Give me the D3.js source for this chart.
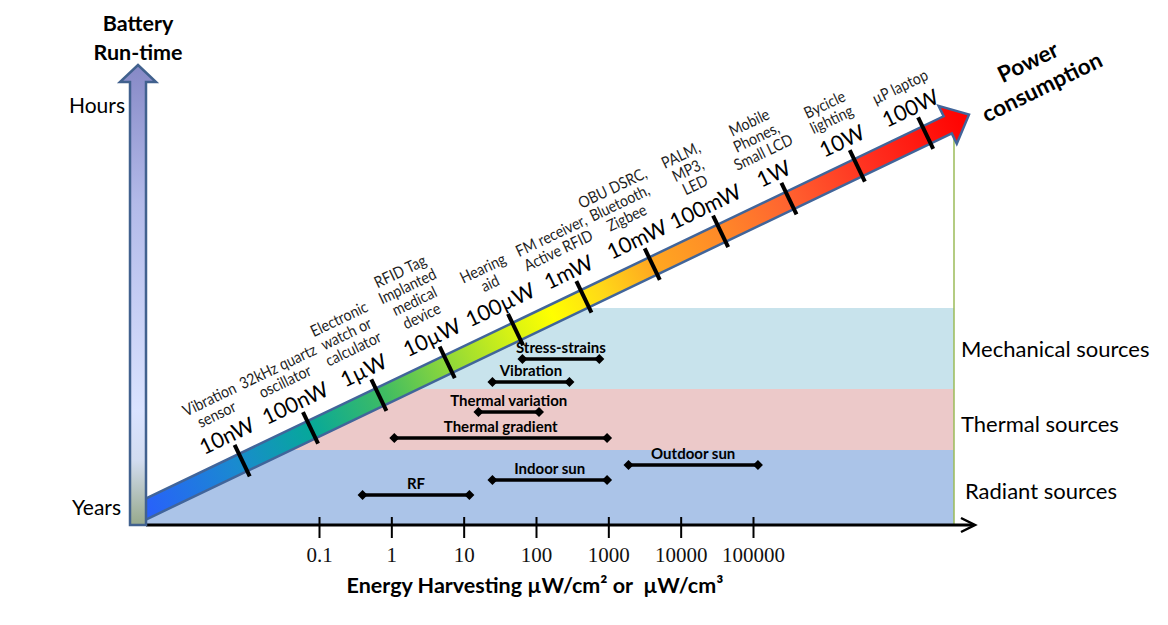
<!DOCTYPE html>
<meta charset="utf-8">
<script src="https://d3js.org/d3.v7.min.js"></script>
<style>
  body { margin: 0; background: #fff; }
  text { font-family: Lato, "Open Sans", sans-serif; }
</style>
<div id="chart"></div>
<script>
// ---- data ----
const powerLabels = ["10nW", "100nW", "1µW", "10µW", "100µW", "1mW", "10mW", "100mW", "1W", "10W", "100W"];
const powerWatts = [1e-8, 1e-7, 1e-6, 1e-5, 1e-4, 1e-3, 1e-2, 1e-1, 1, 10, 100];
const deviceNames = [
    "Vibration\nsensor",
    "32kHz quartz\noscillator",
    "Electronic\nwatch or\ncalculator",
    "RFID Tag\nImplanted\nmedical\ndevice",
    "Hearing\naid",
    "FM receiver,\nActive RFID",
    "OBU DSRC,\nBluetooth,\nZigbee",
    "PALM,\nMP3,\nLED",
    "Mobile\nPhones,\nSmall LCD",
    "Bycicle\nlighting",
    "µP laptop"
];
const sourceNames = ["Mechanical sources", "Thermal sources", "Radiant sources"];
const rangeNames = ["Stress-strains", "Vibration", "Thermal variation", "Thermal gradient", "Outdoor sun", "Indoor sun", "RF"];
const rangeLow = [65, 25, 16, 1.1, 1900, 25, 0.4];
const rangeHigh = [750, 290, 110, 960, 117000, 960, 12];
const xTicks = [0.1, 1, 10, 100, 1000, 10000, 100000];

// ---- layout ----
const width = 1168, height = 625;
const originX = 146, axisY = 525, rightX = 954;

const svg = d3.select("#chart").append("svg")
    .attr("width", width)
    .attr("height", height);
const defs = svg.append("defs");

// energy harvesting density scale
const x = d3.scaleLog().domain([0.1, 100000]).range([319, 753]);

// rows for the harvesting ranges
const rowY = d3.scaleOrdinal().domain(rangeNames).range([359, 382, 412, 438, 465, 480, 495]);
// source bands
const bandY = d3.scaleOrdinal().domain(sourceNames).range([[308, 389], [389, 450], [450, axisY]]);
const bandColor = d3.scaleOrdinal().domain(sourceNames).range(["#c8e3ec", "#ecc9c9", "#abc4e8"]);

// diagonal power arrow
const angle = Math.atan(0.4792);
const deg = angle * 180 / Math.PI;
const start = {x: originX, y: 509};
const halfW = 9.5;
const along = d3.scaleLog().domain([1e-8, 1e2]).range([107.6, 865.5]);
const tipU = 912.6, headU = 889, headW = 21;

function lowEdge(px) {
    return start.y + halfW / Math.cos(angle) - Math.tan(angle) * (px - originX);
}

// clip so that the source bands stay under the arrow
defs.append("clipPath").attr("id", "under")
    .append("polygon")
    .attr("points", [[originX, lowEdge(originX)], [rightX, lowEdge(rightX)], [rightX, axisY], [originX, axisY]].join(" "));

svg.append("g").attr("clip-path", "url(#under)")
    .selectAll("rect")
    .data(sourceNames)
    .join("rect")
        .attr("x", originX)
        .attr("width", rightX - originX)
        .attr("y", d => bandY(d)[0])
        .attr("height", d => bandY(d)[1] - bandY(d)[0])
        .attr("fill", d => bandColor(d));

// right border line
svg.append("line")
    .attr("x1", rightX).attr("x2", rightX)
    .attr("y1", lowEdge(rightX) - 4).attr("y2", axisY)
    .attr("stroke", "#9bbb59").attr("stroke-width", 1.5);

// arrow gradient
const grad = defs.append("linearGradient").attr("id", "powerGrad")
    .attr("x1", "0").attr("x2", "1").attr("y1", "0").attr("y2", "0");
[[0, "#2a5cff"], [0.12, "#1a8ad0"], [0.21, "#06a89a"], [0.30, "#40bc62"], [0.37, "#8ad63c"],
 [0.45, "#d6f214"], [0.50, "#ffff00"], [0.56, "#ffd818"], [0.62, "#ffa820"], [0.70, "#ff8a28"],
 [0.78, "#ff6430"], [0.88, "#ff3020"], [1, "#ff0000"]]
    .forEach(s => grad.append("stop").attr("offset", s[0]).attr("stop-color", s[1]));

const arrowG = svg.append("g")
    .attr("transform", `translate(${start.x},${start.y}) rotate(${-deg})`);
arrowG.append("path")
    .attr("d", `M-12,${-halfW} L${headU},${-halfW} L${headU},${-headW} L${tipU},0 L${headU},${headW} L${headU},${halfW} L-12,${halfW} Z`)
    .attr("fill", "url(#powerGrad)")
    .attr("stroke", "#41659a")
    .attr("stroke-width", 2.5)
    .attr("stroke-linejoin", "miter");

// power ticks
arrowG.selectAll(".ptick")
    .data(powerWatts)
    .join("line")
        .attr("class", "ptick")
        .attr("x1", d => along(d)).attr("x2", d => along(d))
        .attr("y1", -19.5).attr("y2", 15.5)
        .attr("stroke", "#000").attr("stroke-width", 4);

// power labels
arrowG.selectAll(".plabel")
    .data(powerWatts)
    .join("text")
        .attr("class", "plabel")
        .attr("x", d => along(d) - 3)
        .attr("y", -31)
        .attr("dy", "0.35em")
        .attr("text-anchor", "middle")
        .style("font-size", "21.5px")
        .text((d, i) => powerLabels[i]);

// device descriptions (narrowed a little, like the original Calibri)
arrowG.selectAll(".dev")
    .data(powerWatts)
    .join("text")
        .attr("class", "dev")
        .attr("transform", d => `translate(${along(d) - 3},0) scale(0.88,1)`)
        .attr("text-anchor", "middle")
        .style("font-size", "16px")
        .attr("fill", "#1e1e1e")
        .each(function(d, i) {
            const lines = deviceNames[i].split("\n");
            const n = lines.length;
            d3.select(this).selectAll("tspan")
                .data(lines)
                .join("tspan")
                    .attr("x", 0)
                    .attr("y", (l, j) => -55 - (n - 1 - j) * 16.5)
                    .attr("dy", "0.35em")
                    .text(l => l);
        });

// x axis
svg.append("line")
    .attr("x1", originX).attr("x2", 974)
    .attr("y1", axisY).attr("y2", axisY)
    .attr("stroke", "#000").attr("stroke-width", 3);
svg.append("polyline")
    .attr("points", "961,518 975,525 961,532")
    .attr("fill", "none").attr("stroke", "#000").attr("stroke-width", 2.5);

const xAxis = svg.append("g")
    .attr("transform", `translate(0,${axisY})`)
    .call(d3.axisBottom(x).tickValues(xTicks).tickSize(13).tickPadding(9).tickFormat(d => String(d)));
xAxis.select(".domain").remove();
xAxis.selectAll(".tick line").attr("y1", -8).attr("stroke", "#000").attr("stroke-width", 2);
xAxis.selectAll(".tick text")
    .attr("fill", "#111")
    .style("font-family", "'Liberation Serif', serif")
    .style("font-size", "21px");

svg.append("text")
    .attr("x", 535).attr("y", 593)
    .attr("text-anchor", "middle")
    .style("white-space", "pre")
    .style("font-size", "21.5px").style("font-weight", "bold")
    .text("Energy Harvesting µW/cm² or  µW/cm³");

// vertical run-time arrow
const vGrad = defs.append("linearGradient").attr("id", "timeGrad")
    .attr("x1", "0").attr("x2", "0").attr("y1", "0").attr("y2", "1");
[[0, "#8689c6"], [0.3, "#b3bae9"], [0.75, "#dae3ff"], [0.86, "#d2dcf0"], [1, "#97a98b"]]
    .forEach(s => vGrad.append("stop").attr("offset", s[0]).attr("stop-color", s[1]));
svg.append("path")
    .attr("d", "M130,525 L130,82 L120,82 L138,65 L156,82 L146,82 L146,525 Z")
    .attr("fill", "url(#timeGrad)")
    .attr("stroke", "#41618e")
    .attr("stroke-width", 2.5);

// axis titles
svg.append("text").attr("x", 138).attr("y", 31).attr("text-anchor", "middle")
    .style("font-size", "21.5px").style("font-weight", "bold").text("Battery");
svg.append("text").attr("x", 138).attr("y", 60).attr("text-anchor", "middle")
    .style("font-size", "21.5px").style("font-weight", "bold").text("Run-time");
svg.append("text").attr("x", 125).attr("y", 113).attr("text-anchor", "end")
    .style("font-size", "21px").text("Hours");
svg.append("text").attr("x", 121).attr("y", 515).attr("text-anchor", "end")
    .style("font-size", "21px").text("Years");

svg.append("text").attr("transform", "translate(1028,62) rotate(-26)")
    .attr("text-anchor", "middle").attr("dy", "0.35em")
    .style("font-size", "22.5px").style("font-weight", "bold").text("Power");
svg.append("text").attr("transform", "translate(1042,87) rotate(-26)")
    .attr("text-anchor", "middle").attr("dy", "0.35em")
    .style("font-size", "22.5px").style("font-weight", "bold").text("consumption");

// source labels
svg.selectAll(".src")
    .data(sourceNames)
    .join("text")
        .attr("class", "src")
        .attr("x", (d, i) => i === 2 ? 965 : 961)
        .attr("y", (d, i) => [349, 424, 491][i])
        .attr("dy", "0.35em")
        .style("font-size", "22px")
        .text(d => d);

// harvesting ranges
const ranges = rangeNames.map((name, i) => ({name, lo: rangeLow[i], hi: rangeHigh[i]}));
const rg = svg.append("g").selectAll("g")
    .data(ranges)
    .join("g");
rg.append("line")
    .attr("x1", d => x(d.lo)).attr("x2", d => x(d.hi))
    .attr("y1", d => rowY(d.name)).attr("y2", d => rowY(d.name))
    .attr("stroke", "#000").attr("stroke-width", 3.5);
const diamond = d3.symbol(d3.symbolSquare, 50);
rg.selectAll("path")
    .data(d => [[x(d.lo), rowY(d.name)], [x(d.hi), rowY(d.name)]])
    .join("path")
        .attr("d", diamond)
        .attr("transform", p => `translate(${p[0]},${p[1]}) rotate(45)`)
        .attr("fill", "#000");
rg.append("text")
    .attr("x", d => (x(d.lo) + x(d.hi)) / 2)
    .attr("y", d => rowY(d.name) - 6)
    .attr("text-anchor", "middle")
    .style("font-size", "15px").style("font-weight", "bold")
    .text(d => d.name);
</script>
